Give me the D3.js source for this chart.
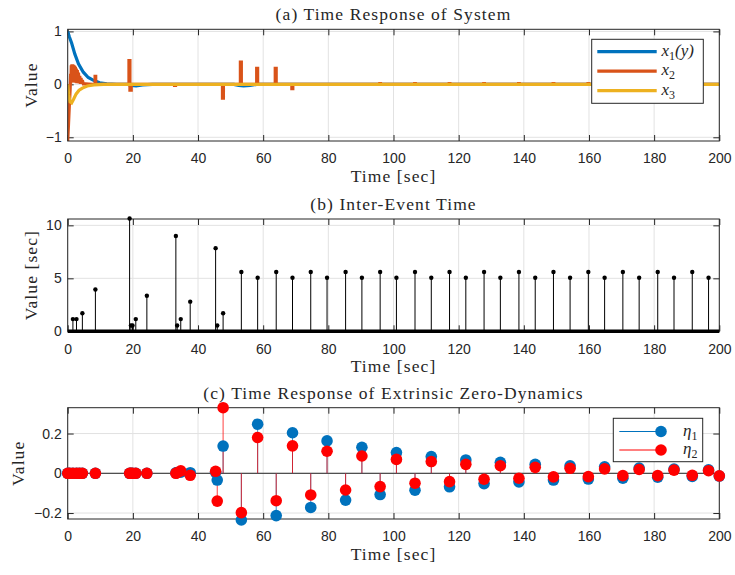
<!DOCTYPE html>
<html>
<head>
<meta charset="utf-8">
<script src="https://cdn.jsdelivr.net/npm/d3@7/dist/d3.min.js"></script>
<style>
body { margin: 0; background: #fff; }
.tick text { font-family: "Liberation Sans", Arial, sans-serif; font-size: 14px; fill: #262626; }
.ttl { font-family: "Liberation Serif", "Times New Roman", serif; font-size: 17.5px; letter-spacing: 1.1px; fill: #262626; }
.math { font-family: "Liberation Serif", serif; font-style: italic; font-size: 17px; fill: #262626; }
</style>
</head>
<body>
<svg id="fig" width="735" height="575"></svg>
<script>
// values
var timeTicks = [0, 20, 40, 60, 80, 100, 120, 140, 160, 180, 200];

// (a) states  [t, value]
var x1Pts = [[0,1.0],[0.5,0.9],[1.2,0.78],[2.2,0.57],[3.3,0.39],[4.8,0.23],[6.3,0.13],[7.8,0.08],
	[9.8,0.03],[12,0.01],[15,0],[18.5,0],[19.5,-0.02],[21,-0.03],[23,-0.01],[26,0],[51,0],
	[52.5,-0.02],[54,-0.03],[56,-0.02],[58,0],[200,0]];
var x3Pts = [[0,0],[0.3,-0.2],[0.7,-0.33],[1.2,-0.35],[1.8,-0.28],[2.6,-0.18],[3.5,-0.11],
	[4.5,-0.07],[6,-0.03],[8,-0.01],[11,0],[200,0]];
var x2Start = [[0,-1.07],[0.25,-0.75],[0.5,-0.4],[0.75,-0.1],[0.9,0.2],[1.0,0.02],[1.1,0.36],
	[1.2,0.05],[1.3,0.38],[1.4,0.04],[1.5,0.38],[1.6,0.05],[1.7,0.37],[1.8,0.04],[1.9,0.36],
	[2.0,0.04],[2.1,0.35],[2.2,0.03],[2.35,0.33],[2.5,0.03],[2.65,0.3],[2.8,0.02],[2.95,0.27],
	[3.1,0.02],[3.3,0.22],[3.5,0.02],[3.7,0.16],[3.9,0.01],[4.1,0.12],[4.3,0.01],[4.5,0.08],
	[4.8,0.01],[5.5,0.01],[7.5,0]];
// pulses of x2: [from, to, level]
var x2Pulses = [[8.4,8.6,0.15],[18.8,19.1,0.45],[19.1,19.5,-0.11],[32.8,33.1,-0.02],[47.5,47.8,-0.26],
	[53.0,53.3,0.42],[58.0,58.3,0.3],[63.7,64.0,0.3],[68.8,69.1,-0.08],[95.8,96.0,0.015],
	[106.5,106.7,0.015],[117.1,117.3,0.015],[127.7,127.9,0.015],[138.4,138.6,0.015],[149.0,149.2,0.015],
	[159.7,159.9,0.015],[170.3,170.5,0.015],[181.0,181.2,0.015],[191.6,191.8,0.015]];

// (b) inter-event time
var eventT = [1.6, 2.7, 4.5, 8.5, 19.0, 19.4, 19.9, 20.9, 24.3, 33.2, 33.6, 34.7, 37.6, 45.4, 45.9, 47.7,
	53.3, 58.3, 64.0, 69.0, 74.6, 79.6, 85.3, 90.3, 95.9, 100.9, 106.6, 111.6, 117.2, 122.2, 127.8,
	132.8, 138.5, 143.5, 149.1, 154.2, 159.8, 164.8, 170.4, 175.4, 181.1, 186.1, 191.7, 196.7];
var eventDt = [1.15, 1.15, 1.7, 3.95, 10.65, 0.55, 0.55, 1.15, 3.35, 9.0, 0.55, 1.15, 2.8, 7.85, 0.55, 1.7,
	5.6, 5.05, 5.6, 5.05, 5.6, 5.05, 5.6, 5.05, 5.6, 5.05, 5.6, 5.05, 5.6, 5.05, 5.6,
	5.05, 5.6, 5.05, 5.6, 5.05, 5.6, 5.05, 5.6, 5.05, 5.6, 5.05, 5.6, 5.05];

// (c) extrinsic zero-dynamics at the events
var zdT = [0, 0.6, 1.6, 2.7, 3.6, 4.5, 8.5, 19.0, 19.4, 19.9, 20.9, 24.3, 33.2, 33.6, 34.7, 37.6, 45.4, 45.9,
	47.7, 53.3, 58.3, 64.0, 69.0, 74.6, 79.6, 85.3, 90.3, 95.9, 100.9, 106.6, 111.6, 117.2, 122.2,
	127.8, 132.8, 138.5, 143.5, 149.1, 154.2, 159.8, 164.8, 170.4, 175.4, 181.1, 186.1, 191.7, 196.7, 200];
var eta1 = [0, 0, 0, 0, 0, 0, 0, 0, 0, 0, 0, 0, 0.002, 0.004, 0.006, 0.003, 0.005, -0.034,
	0.137, -0.235, 0.247, -0.213, 0.204, -0.172, 0.163, -0.135, 0.131, -0.107, 0.104, -0.085, 0.084, -0.068, 0.067,
	-0.052, 0.055, -0.043, 0.045, -0.034, 0.038, -0.029, 0.033, -0.025, 0.026, -0.02, 0.021, -0.016, 0.017, -0.014];
var eta2 = [0, 0, 0, 0, 0, 0, 0, 0, 0, 0, 0, 0, 0, 0.003, 0.012, -0.01, 0.01, -0.14,
	0.33, -0.198, 0.18, -0.138, 0.138, -0.109, 0.111, -0.084, 0.087, -0.067, 0.07, -0.05, 0.059, -0.042, 0.045,
	-0.03, 0.038, -0.025, 0.03, -0.018, 0.025, -0.017, 0.022, -0.012, 0.019, -0.012, 0.016, -0.01, 0.013, -0.013];

var yTicksA = [-1, 0, 1];
var yTicksB = [0, 5, 10];
var yTicksC = [-0.2, 0, 0.2];

var colBlue = "#0072BD", colOrange = "#D95319", colYellow = "#EDB120", colRed = "#FF0000";
var ink = "#262626";

var svg = d3.select("#fig");
var left = 67.7, right = 719.3, mid = (left + right) / 2;
var x = d3.scaleLinear().domain([0, 200]).range([left, right]);

// one boxed MATLAB-like axes
function panel(id, top, bottom, yDom, yTicks, yFmt, title, ylab, ylabX) {
	var y = d3.scaleLinear().domain(yDom).range([bottom, top]);
	var g = svg.append("g").attr("id", id);

	svg.append("clipPath").attr("id", id + "clip")
		.append("rect").attr("x", left).attr("y", top).attr("width", right - left).attr("height", bottom - top);

	var grid = g.append("g").attr("stroke", "#e2e2e2").attr("stroke-width", 1);
	grid.selectAll(".gx").data(timeTicks).enter().append("line")
		.attr("x1", function(d) { return x(d); }).attr("x2", function(d) { return x(d); })
		.attr("y1", top).attr("y2", bottom);
	grid.selectAll(".gy").data(yTicks).enter().append("line")
		.attr("x1", left).attr("x2", right)
		.attr("y1", function(d) { return y(d); }).attr("y2", function(d) { return y(d); });

	var ax = [
		[d3.axisBottom(x).tickValues(timeTicks).tickFormat(d3.format("d")).tickPadding(12.5), "translate(0," + bottom + ")"],
		[d3.axisTop(x).tickValues(timeTicks).tickFormat(""), "translate(0," + top + ")"],
		[d3.axisLeft(y).tickValues(yTicks).tickFormat(yFmt).tickPadding(6), "translate(" + left + ",0)"],
		[d3.axisRight(y).tickValues(yTicks).tickFormat(""), "translate(" + right + ",0)"]
	];
	ax.forEach(function(a) {
		var s = g.append("g").attr("transform", a[1])
			.call(a[0].tickSizeInner(-6).tickSizeOuter(0));
		s.select(".domain").remove();
		s.selectAll(".tick line").attr("stroke", ink);
	});

	var data = g.append("g").attr("clip-path", "url(#" + id + "clip)");

	g.append("rect").attr("x", left).attr("y", top).attr("width", right - left).attr("height", bottom - top)
		.attr("fill", "none").attr("stroke", ink).attr("stroke-width", 1);

	g.append("text").attr("class", "ttl").attr("x", mid).attr("y", top - 9)
		.attr("text-anchor", "middle").text(title);
	g.append("text").attr("class", "ttl").attr("x", mid).attr("y", bottom + 41)
		.attr("text-anchor", "middle").text("Time [sec]");
	g.append("text").attr("class", "ttl").attr("text-anchor", "middle")
		.attr("transform", "translate(" + ylabX + "," + ((top + bottom) / 2) + ") rotate(-90)")
		.text(ylab);

	return { y: y, g: g, data: data };
}

// ---------- (a) ----------
var pa = panel("pa", 29.3, 141, [-1.07, 1.04], yTicksA, d3.format("d"),
	"(a) Time Response of System", "Value", 37);

var x2Pts = x2Start.slice();
x2Pulses.forEach(function(p) {
	x2Pts.push([p[0], 0], [p[0], p[2]], [p[1], p[2]], [p[1], 0]);
});
x2Pts.push([200, 0]);

var lineA = d3.line().x(function(d) { return x(d[0]); }).y(function(d) { return pa.y(d[1]); });
[[x1Pts, colBlue], [x2Pts, colOrange], [x3Pts, colYellow]].forEach(function(s) {
	pa.data.append("path").datum(s[0]).attr("d", lineA)
		.attr("fill", "none").attr("stroke", s[1]).attr("stroke-width", 3.2)
		.attr("stroke-linejoin", "miter");
});

var legA = pa.g.append("g");
legA.append("rect").attr("x", 591.7).attr("y", 39.3).attr("width", 111.6).attr("height", 64)
	.attr("fill", "#fff").attr("stroke", ink).attr("stroke-width", 1);
var legAItems = [[colBlue, "1", "(y)"], [colOrange, "2", ""], [colYellow, "3", ""]];
legAItems.forEach(function(it, i) {
	var ly = 51.7 + i * 19.5;
	legA.append("line").attr("x1", 597.3).attr("x2", 656.7).attr("y1", ly).attr("y2", ly)
		.attr("stroke", it[0]).attr("stroke-width", 3.2);
	var t = legA.append("text").attr("class", "math").attr("x", 661.5).attr("y", ly + 4);
	t.append("tspan").text("x");
	t.append("tspan").attr("font-size", "12px").attr("font-style", "normal").attr("dy", 4).text(it[1]);
	if (it[2]) t.append("tspan").attr("dy", -4).text(it[2]);
});

// ---------- (b) ----------
var pb = panel("pb", 219, 331.3, [0, 10.6], yTicksB, d3.format("d"),
	"(b) Inter-Event Time", "Value [sec]", 37);

pb.data.selectAll(".stem").data(eventT).enter().append("line")
	.attr("x1", function(d) { return x(d); }).attr("x2", function(d) { return x(d); })
	.attr("y1", pb.y(0)).attr("y2", function(d, i) { return pb.y(eventDt[i]); })
	.attr("stroke", "#000").attr("stroke-width", 1);
pb.g.append("line").attr("x1", left).attr("x2", right).attr("y1", pb.y(0)).attr("y2", pb.y(0))
	.attr("stroke", "#000").attr("stroke-width", 3.6);
pb.g.selectAll(".dot").data(eventT).enter().append("circle")
	.attr("cx", function(d) { return x(d); }).attr("cy", function(d, i) { return pb.y(eventDt[i]); })
	.attr("r", 2.2).attr("fill", "#000");

// ---------- (c) ----------
var pc = panel("pc", 407.7, 519, [-0.23, 0.33], yTicksC, function(d) { return d === 0 ? "0" : d3.format(".1f")(d); },
	"(c) Time Response of Extrinsic Zero-Dynamics", "Value", 24);

pc.data.append("line").attr("x1", left).attr("x2", right).attr("y1", pc.y(0)).attr("y2", pc.y(0))
	.attr("stroke", ink).attr("stroke-width", 1);
[[eta1, colBlue], [eta2, colRed]].forEach(function(s) {
	pc.data.selectAll(null).data(zdT).enter().append("line")
		.attr("x1", function(d) { return x(d); }).attr("x2", function(d) { return x(d); })
		.attr("y1", pc.y(0)).attr("y2", function(d, i) { return pc.y(s[0][i]); })
		.attr("stroke", s[1]).attr("stroke-width", 1).attr("stroke-opacity", 0.75);
});
[[eta1, colBlue], [eta2, colRed]].forEach(function(s) {
	pc.g.selectAll(null).data(zdT).enter().append("circle")
		.attr("cx", function(d) { return x(d); }).attr("cy", function(d, i) { return pc.y(s[0][i]); })
		.attr("r", 5.8).attr("fill", s[1]);
});

var legC = pc.g.append("g");
legC.append("rect").attr("x", 613.3).attr("y", 418.3).attr("width", 89.4).attr("height", 43.4)
	.attr("fill", "#fff").attr("stroke", ink).attr("stroke-width", 1);
[[colBlue, "1"], [colRed, "2"]].forEach(function(it, i) {
	var ly = 431.5 + i * 18.5;
	legC.append("line").attr("x1", 619.3).attr("x2", 661).attr("y1", ly).attr("y2", ly)
		.attr("stroke", it[0]).attr("stroke-width", 1);
	legC.append("circle").attr("cx", 661).attr("cy", ly).attr("r", 5.8).attr("fill", it[0]);
	var t = legC.append("text").attr("class", "math").attr("x", 683).attr("y", ly + 4);
	t.append("tspan").text("η");
	t.append("tspan").attr("font-size", "12px").attr("font-style", "normal").attr("dy", 4).text(it[1]);
});
</script>
</body>
</html>
